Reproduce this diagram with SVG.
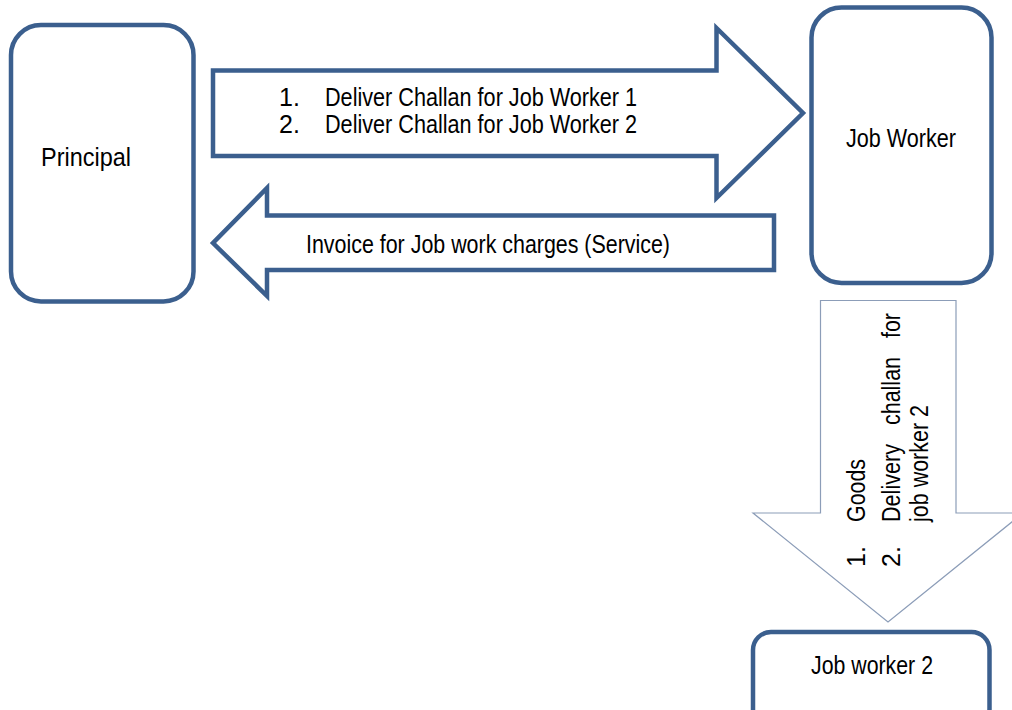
<svg xmlns="http://www.w3.org/2000/svg" width="1012" height="710" viewBox="0 0 1012 710">
  <style>
    .node { fill: #ffffff; stroke: #3b5f8e; stroke-width: 4.5; }
    .big { fill: #ffffff; stroke: #3b5f8e; stroke-width: 4.5; stroke-linejoin: miter; }
    .thin { fill: #ffffff; stroke: #8c9db8; stroke-width: 1.2; }
    text { font-family: "Liberation Sans", Arial, sans-serif; font-size: 25px; fill: #000000; }
  </style>
  <rect width="1012" height="710" fill="#ffffff"/>
  <g id="connectors">
    <path id="arrow-to-jobworker" class="big" d="M213,70.5 H716.5 V28 L803,113 L716.5,198 V156 H213 Z"/>
    <path id="arrow-to-principal" class="big" d="M774,215.5 H267 V188 L213,243 L267,296 V270 H774 Z"/>
    <path id="arrow-to-jobworker2" class="thin" d="M820.5,300.5 H956 V513 H1023 L888,622 L753,513 H820.5 Z"/>
    <text x="279" y="106">1.</text>
    <text x="325" y="106" textLength="312" lengthAdjust="spacingAndGlyphs">Deliver Challan for Job Worker 1</text>
    <text x="279" y="133">2.</text>
    <text x="325" y="133" textLength="312" lengthAdjust="spacingAndGlyphs">Deliver Challan for Job Worker 2</text>
    <text x="306" y="253" textLength="364" lengthAdjust="spacingAndGlyphs">Invoice for Job work charges (Service)</text>
    <g transform="rotate(-90)">
      <text x="-567" y="865">1.</text>
      <text x="-522" y="865" textLength="63" lengthAdjust="spacingAndGlyphs">Goods</text>
      <text x="-567" y="900">2.</text>
      <text x="-522" y="900" textLength="78" lengthAdjust="spacingAndGlyphs">Delivery</text>
      <text x="-425" y="900" textLength="68" lengthAdjust="spacingAndGlyphs">challan</text>
      <text x="-338" y="900" textLength="25" lengthAdjust="spacingAndGlyphs">for</text>
      <text x="-522" y="928" textLength="117" lengthAdjust="spacingAndGlyphs">job worker 2</text>
    </g>
  </g>
  <g id="principal">
    <rect class="node" x="11" y="25" width="182.5" height="276.5" rx="30" ry="30"/>
    <text x="41" y="166" font-size="26" textLength="90" lengthAdjust="spacingAndGlyphs" style="font-size:26px">Principal</text>
  </g>
  <g id="job-worker">
    <rect class="node" x="811.5" y="7.5" width="180" height="275.5" rx="30" ry="30"/>
    <text x="846" y="147" textLength="110" lengthAdjust="spacingAndGlyphs">Job Worker</text>
  </g>
  <g id="job-worker-2">
    <rect class="node" x="753" y="632" width="236.5" height="95" rx="18" ry="18"/>
    <text x="811" y="674" textLength="122" lengthAdjust="spacingAndGlyphs">Job worker 2</text>
  </g>
</svg>
